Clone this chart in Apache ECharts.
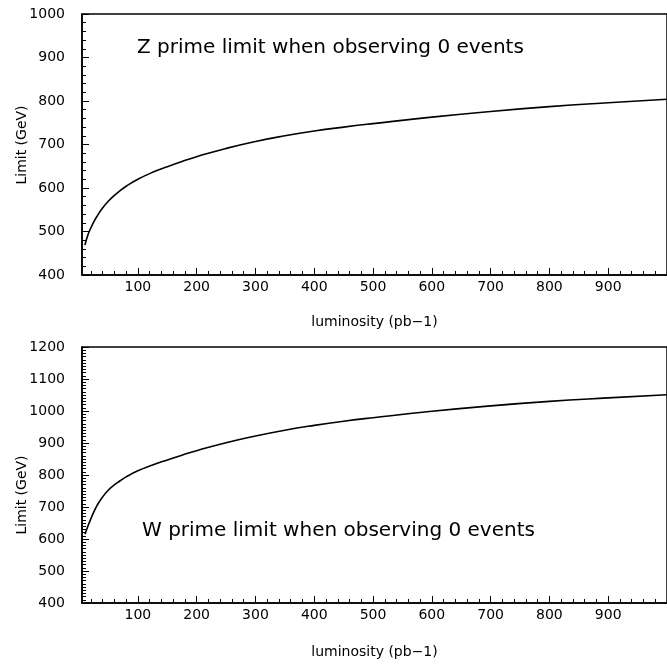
<!DOCTYPE html>
<html>
<head>
<meta charset="utf-8">
<script src="https://cdn.jsdelivr.net/npm/echarts@6/dist/echarts.min.js"></script>
<style>
  html, body { margin: 0; padding: 0; background: #fff; }
  #chart { width: 667px; height: 666px; }
</style>
</head>
<body>
<div id="chart"></div>
<script>
// Luminosity (pb-1) sample points
const zLumi = [10, 15, 20, 25, 30, 40, 50, 60, 70, 80, 100, 125, 150, 175, 200, 250, 300, 350, 400, 450, 500, 600, 700, 800, 900, 1000];
// Z prime mass limit (GeV)
const zLimit = [469, 492, 508, 522, 534, 554, 570, 583, 594, 604, 620, 636, 649, 661, 672, 691, 707, 720, 731, 740, 748, 763, 776, 787, 796, 804];

const wLumi = [10, 15, 20, 25, 30, 40, 50, 60, 70, 80, 100, 125, 150, 175, 200, 250, 300, 350, 400, 450, 500, 600, 700, 800, 900, 1000];
// W prime mass limit (GeV)
const wLimit = [615, 640, 663, 684, 703, 731, 753, 769, 782, 794, 813, 831, 847, 862, 876, 901, 922, 940, 955, 968, 979, 999, 1016, 1030, 1041, 1051];

// Axis tick values
const xMajorTicks = [100, 200, 300, 400, 500, 600, 700, 800, 900];
const xMinorTicks = [];
for (let v = 20; v < 1000; v += 20) xMinorTicks.push(v);

const zTitle = 'Z prime limit when observing 0 events';
const wTitle = 'W prime limit when observing 0 events';
const xName = 'luminosity (pb\u22121)';
const yName = 'Limit (GeV)';

const FONT = 'DejaVu Sans';
const INK = '#000';

function lumiAxes(grid, gap) {
  return [
    {
      type: 'value', gridIndex: grid, min: 5, max: 1000,
      name: xName, nameLocation: 'middle', nameGap: gap,
      nameTextStyle: { fontFamily: FONT, fontSize: 14, color: INK },
      axisLine: { lineStyle: { color: INK, width: 1.5 } },
      axisTick: { inside: true, length: 7, customValues: xMajorTicks, lineStyle: { color: INK, width: 1 } },
      axisLabel: { customValues: xMajorTicks, margin: 5, fontFamily: FONT, fontSize: 14, color: INK,
                   formatter: v => String(v) },
      splitLine: { show: false }
    },
    {
      type: 'value', gridIndex: grid, min: 5, max: 1000, position: 'bottom',
      axisLine: { show: false },
      axisTick: { inside: true, length: 4, customValues: xMinorTicks, lineStyle: { color: INK, width: 1 } },
      axisLabel: { show: false },
      splitLine: { show: false }
    }
  ];
}

function limitAxis(grid, min, max, minorSplit) {
  return {
    type: 'value', gridIndex: grid, min: min, max: max, interval: 100,
    axisLine: { lineStyle: { color: INK, width: 1.5 } },
    axisTick: { inside: true, length: 7, lineStyle: { color: INK, width: 1 } },
    minorTick: { show: true, splitNumber: minorSplit, length: 4, lineStyle: { color: INK, width: 1 } },
    axisLabel: { margin: 17, fontFamily: FONT, fontSize: 14, color: INK, formatter: v => String(v) },
    splitLine: { show: false }
  };
}

const chart = echarts.init(document.getElementById('chart'), null, { renderer: 'canvas' });

chart.setOption({
  backgroundColor: '#fff',
  animation: false,
  grid: [
    { left: 82, right: -12, top: 14, height: 261, show: true, borderColor: INK, borderWidth: 1.5, backgroundColor: 'transparent' },
    { left: 82, right: -12, top: 347, height: 256, show: true, borderColor: INK, borderWidth: 1.5, backgroundColor: 'transparent' }
  ],
  xAxis: [...lumiAxes(0, 40), ...lumiAxes(1, 42)],
  yAxis: [limitAxis(0, 400, 1000, 5), limitAxis(1, 400, 1200, 10)],
  series: [
    {
      type: 'line', xAxisIndex: 0, yAxisIndex: 0,
      data: zLumi.map((x, i) => [x, zLimit[i]]),
      showSymbol: false, smooth: 0.5,
      lineStyle: { color: INK, width: 1.6 }
    },
    {
      type: 'line', xAxisIndex: 2, yAxisIndex: 1,
      data: wLumi.map((x, i) => [x, wLimit[i]]),
      showSymbol: false, smooth: 0.5,
      lineStyle: { color: INK, width: 1.6 }
    }
  ],
  graphic: [
    { type: 'text', left: 137, top: 38, style: { text: zTitle, fontFamily: FONT, fontSize: 20, fill: INK } },
    { type: 'text', left: 142, top: 521, style: { text: wTitle, fontFamily: FONT, fontSize: 20, fill: INK } },
    { type: 'text', x: 22, y: 145, rotation: Math.PI / 2,
      style: { text: yName, fontFamily: FONT, fontSize: 14, fill: INK, align: 'center', verticalAlign: 'middle' } },
    { type: 'text', x: 22, y: 495, rotation: Math.PI / 2,
      style: { text: yName, fontFamily: FONT, fontSize: 14, fill: INK, align: 'center', verticalAlign: 'middle' } }
  ]
});
</script>
</body>
</html>
